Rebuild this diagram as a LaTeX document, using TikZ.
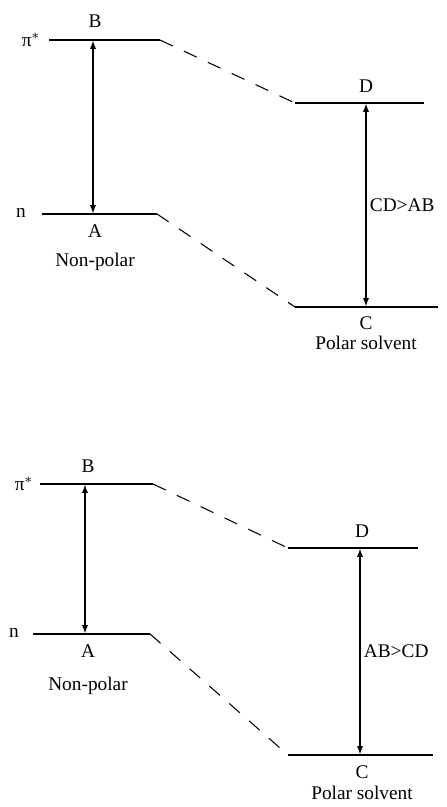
\documentclass[tikz,border=0pt]{standalone}
\usepackage{fontspec}
\setmainfont{Liberation Serif}
\usepackage{tikz}
\usetikzlibrary{arrows.meta, positioning, calc}

\tikzset{
  level/.style={line width=1.4pt},
  shift line/.style={line width=0.6pt, dash pattern=on 8pt off 7pt},
  transition/.style={line width=1.4pt, {Latex[length=5pt,width=3.5pt]}-{Latex[length=5pt,width=3.5pt]}},
  lbl/.style={font=\fontsize{11}{13}\selectfont, inner sep=1pt}
}

\begin{document}
\begin{tikzpicture}[x=0.02cm, y=-0.02cm]
\useasboundingbox (0,0) rectangle (446,807);

% ---- Upper diagram ----
% Levels
\coordinate (B1l) at (49,40);  \coordinate (B1r) at (160,40);
\coordinate (A1l) at (42,214); \coordinate (A1r) at (157,214);
\coordinate (D1l) at (295,103); \coordinate (D1r) at (424,103);
\coordinate (C1l) at (295,307); \coordinate (C1r) at (438,307);
\draw[level] (B1l) -- (B1r);
\draw[level] (A1l) -- (A1r);
\draw[level] (D1l) -- (D1r);
\draw[level] (C1l) -- (C1r);

% Solvent shifts
\draw[shift line] (B1r) -- (D1l);
\draw[shift line] (A1r) -- (C1l);

% Transitions
\coordinate (B1a) at (93,40);  \coordinate (A1a) at (93,214);
\coordinate (D1a) at (366,103); \coordinate (C1a) at (366,307);
\draw[transition] (B1a) -- (A1a);
\draw[transition] (D1a) -- (C1a);

% Labels
\node[lbl] (pi1) at (31,40) {π$^{*}$};
\node[lbl] (n1) at (21,213) {n};
\node[lbl] (labB1) at (95,21) {B};
\node[lbl] (labA1) at (95,231) {A};
\node[lbl] (np1) at (95,262) {Non-polar};
\node[lbl] (labD1) at (366,86) {D};
\node[lbl] (labC1) at (366,323) {C};
\node[lbl] (ps1) at (366,343) {Polar solvent};
\node[lbl, right=1pt of $(D1a)!0.5!(C1a)$] (cmp1) {CD>AB};

% ---- Lower diagram ----
% Levels
\coordinate (B2l) at (40,484);  \coordinate (B2r) at (153,484);
\coordinate (A2l) at (33,634);  \coordinate (A2r) at (150,634);
\coordinate (D2l) at (288,548); \coordinate (D2r) at (418,548);
\coordinate (C2l) at (288,755); \coordinate (C2r) at (433,755);
\draw[level] (B2l) -- (B2r);
\draw[level] (A2l) -- (A2r);
\draw[level] (D2l) -- (D2r);
\draw[level] (C2l) -- (C2r);

% Solvent shifts
\draw[shift line] (B2r) -- (D2l);
\draw[shift line] (A2r) -- (C2l);

% Transitions
\coordinate (B2a) at (85,484);  \coordinate (A2a) at (85,634);
\coordinate (D2a) at (360,548); \coordinate (C2a) at (360,755);
\draw[transition] (B2a) -- (A2a);
\draw[transition] (D2a) -- (C2a);

% Labels
\node[lbl] (pi2) at (24,484) {π$^{*}$};
\node[lbl] (n2) at (14,633) {n};
\node[lbl] (labB2) at (88,466) {B};
\node[lbl] (labA2) at (88,651) {A};
\node[lbl] (np2) at (88,686) {Non-polar};
\node[lbl] (labD2) at (362,531) {D};
\node[lbl] (labC2) at (362,772) {C};
\node[lbl] (ps2) at (362,793) {Polar solvent};
\node[lbl, right=1pt of $(D2a)!0.5!(C2a)$] (cmp2) {AB>CD};
\end{tikzpicture}
\end{document}
